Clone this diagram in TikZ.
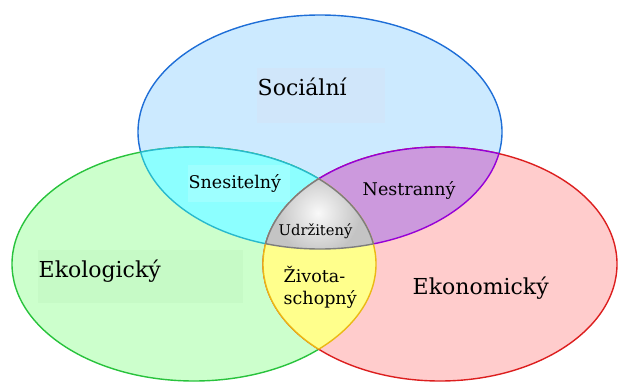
\documentclass[tikz,border=0pt]{standalone}
\usepackage{fontspec}
\setmainfont{DejaVu Serif}
\usepackage{tikz}
\definecolor{socfill}{RGB}{204,234,255}
\definecolor{socline}{RGB}{30,110,215}
\definecolor{ekofill}{RGB}{204,255,204}
\definecolor{ekoline}{RGB}{40,195,60}
\definecolor{ekonfill}{RGB}{255,204,204}
\definecolor{ekonline}{RGB}{220,30,30}
\definecolor{snesfill}{RGB}{140,255,255}
\definecolor{snesline}{RGB}{40,185,205}
\definecolor{nestfill}{RGB}{204,153,221}
\definecolor{nestline}{RGB}{150,0,215}
\definecolor{zivfill}{RGB}{255,255,140}
\definecolor{zivline}{RGB}{235,185,20}
\definecolor{udrfill}{RGB}{196,196,196}
\definecolor{udrline}{RGB}{125,125,125}
\definecolor{socbox}{RGB}{208,230,250}
\definecolor{snesbox}{RGB}{158,255,255}
\definecolor{ekobox}{RGB}{198,250,198}
\newcommand{\socell}{(320,132) ellipse [x radius=182pt, y radius=117pt]}
\newcommand{\ekoell}{(194,264) ellipse [x radius=182pt, y radius=117pt]}
\newcommand{\ekonell}{(440,264) ellipse [x radius=177pt, y radius=117pt]}

\begin{document}
\begin{tikzpicture}[x=1pt,y=-1pt,line width=1.4pt,
  biglabel/.style={font=\fontsize{22}{26}\selectfont,inner sep=0pt,anchor=base west},
  smalllabel/.style={font=\fontsize{17.5}{21}\selectfont,inner sep=0pt,anchor=base west}]
\useasboundingbox (0,0) rectangle (618,383);
% the three ellipses
\draw[socline,fill=socfill] \socell;
\draw[ekoline,fill=ekofill] \ekoell;
\draw[ekonline,fill=ekonfill] \ekonell;
% social and ecological
\begin{scope}
\clip \socell;
\fill[snesfill] \ekoell;
\draw[snesline] \ekoell;
\end{scope}
\begin{scope}
\clip \ekoell;
\draw[snesline] \socell;
\end{scope}
% social and economic
\begin{scope}
\clip \socell;
\fill[nestfill] \ekonell;
\draw[nestline] \ekonell;
\end{scope}
\begin{scope}
\clip \ekonell;
\draw[nestline] \socell;
\end{scope}
% ecological and economic
\begin{scope}
\clip \ekoell;
\fill[zivfill] \ekonell;
\draw[zivline] \ekonell;
\end{scope}
\begin{scope}
\clip \ekonell;
\draw[zivline] \ekoell;
\end{scope}
% label backgrounds
\fill[socbox] (257,68) rectangle (385,123);
\fill[snesbox] (188,165) rectangle (290,202);
\fill[ekobox] (38,250) rectangle (243,303);
% all three
\begin{scope}
\clip \socell;
\clip \ekoell;
\clip \ekonell;
\fill[udrfill] (250,170) rectangle (390,260);
\shade[inner color=white!90!udrfill,outer color=udrfill] (318,213) circle (42pt);
\end{scope}
\begin{scope}
\clip \socell;
\clip \ekoell;
\draw[udrline] \ekonell;
\end{scope}
\begin{scope}
\clip \socell;
\clip \ekonell;
\draw[udrline] \ekoell;
\end{scope}
\begin{scope}
\clip \ekoell;
\clip \ekonell;
\draw[udrline] \socell;
\end{scope}
% labels
\node[biglabel] (soc) at (257,95) {Sociální};
\node[biglabel] (eko) at (38,277) {Ekologický};
\node[biglabel] (ekon) at (412,294) {Ekonomický};
\node[smalllabel] (snes) at (188,188) {Snesitelný};
\node[smalllabel] (nest) at (362,195) {Nestranný};
\node[smalllabel,font=\fontsize{14.7}{18}\selectfont] (udr) at (278,235) {Udržitený};
\node[font=\fontsize{17.5}{22}\selectfont,inner sep=0pt,anchor=north west,align=left] (ziv) at (283,266) {Života-\\schopný};
\end{tikzpicture}
\end{document}
